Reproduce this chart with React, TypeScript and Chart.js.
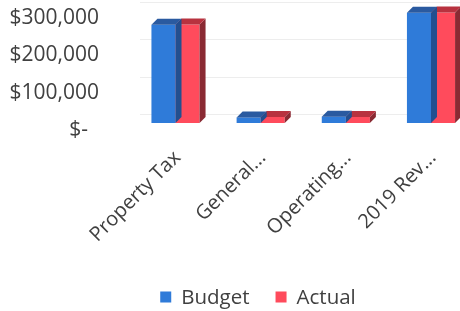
import { useEffect, useRef } from "react";
import { Chart, registerables } from "chart.js";

Chart.register(...registerables);

const categories = ["Property Tax", "General...", "Operating...", "2019 Rev..."];
const seriesNames = ["Budget", "Actual"];
const budget = [263000, 15000, 17000, 295000];
const actual = [264000, 16000, 16000, 296000];
const yTickValues = [0, 100000, 200000, 300000];

const FONT = "'Open Sans', 'DejaVu Sans', sans-serif";
const TEXT = "#404040";

const formatMoney = (v: number) =>
  v === 0 ? "$-  " : "$" + v.toLocaleString("en-US");

const bar3d = {
  id: "bar3d",
  afterDatasetDraw(chart: any, args: any) {
    const ds: any = chart.data.datasets[args.index];
    const ctx = chart.ctx;
    const dx = 6;
    const dy = 6;
    args.meta.data.forEach((el: any) => {
      const p = el.getProps(["x", "y", "base", "width"], true);
      const l = p.x - p.width / 2;
      const r = p.x + p.width / 2;
      const t = Math.min(p.y, p.base);
      const b = Math.max(p.y, p.base);
      ctx.save();
      ctx.fillStyle = ds.sideColor;
      ctx.beginPath();
      ctx.moveTo(r, t);
      ctx.lineTo(r + dx, t - dy);
      ctx.lineTo(r + dx, b - dy);
      ctx.lineTo(r, b);
      ctx.closePath();
      ctx.fill();
      ctx.fillStyle = ds.topColor;
      ctx.beginPath();
      ctx.moveTo(l, t);
      ctx.lineTo(l + dx, t - dy);
      ctx.lineTo(r + dx, t - dy);
      ctx.lineTo(r, t);
      ctx.closePath();
      ctx.fill();
      ctx.restore();
    });
  },
};

const backGrid = {
  id: "backGrid",
  beforeDatasetsDraw(chart: any) {
    const ctx = chart.ctx;
    const y = chart.scales.y;
    ctx.save();
    ctx.strokeStyle = "#ededed";
    ctx.lineWidth = 1;
    yTickValues.forEach((v) => {
      const py = Math.round(y.getPixelForValue(v) - 9) + 0.5;
      ctx.beginPath();
      ctx.moveTo(140, py);
      ctx.lineTo(chart.width, py);
      ctx.stroke();
    });
    ctx.restore();
  },
};

const customLegend = {
  id: "customLegend",
  afterDraw(chart: any) {
    const ctx = chart.ctx;
    const box = 11;
    const gap = 10;
    const itemGap = 26;
    const cx = 258;
    const cy = 297;
    ctx.save();
    ctx.font = `20.5px ${FONT}`;
    const items = chart.data.datasets.map((d: any) => ({
      label: d.label,
      color: d.backgroundColor,
      w: ctx.measureText(d.label).width,
    }));
    const total =
      items.reduce((s: number, it: any) => s + box + gap + it.w, 0) +
      itemGap * (items.length - 1);
    let x = cx - total / 2;
    ctx.textBaseline = "middle";
    ctx.textAlign = "left";
    items.forEach((it: any) => {
      ctx.fillStyle = it.color;
      ctx.fillRect(x, cy - box / 2, box, box);
      ctx.fillStyle = TEXT;
      ctx.fillText(it.label, x + box + gap, cy + 1);
      x += box + gap + it.w + itemGap;
    });
    ctx.restore();
  },
};

export default function App() {
  const ref = useRef<HTMLCanvasElement | null>(null);
  useEffect(() => {
    if (!ref.current) return;
    const chart = new Chart(ref.current, {
      type: "bar",
      data: {
        labels: categories,
        datasets: [
          {
            label: seriesNames[0],
            data: budget,
            backgroundColor: "#2f7bd9",
            topColor: "#2a5aa0",
            sideColor: "#234f8f",
            clip: false,
          } as any,
          {
            label: seriesNames[1],
            data: actual,
            backgroundColor: "#ff4b5c",
            topColor: "#b8323f",
            sideColor: "#8a2a33",
            clip: false,
          } as any,
        ],
      },
      options: {
        responsive: false,
        animation: false,
        events: [],
        layout: { padding: { top: 11, left: 0, right: 29, bottom: 0 } },
        datasets: {
          bar: { barPercentage: 1, categoryPercentage: 0.565 },
        },
        plugins: {
          legend: { display: false },
          tooltip: { enabled: false },
        },
        scales: {
          x: {
            offset: false,
            grid: { display: false, drawTicks: false },
            border: { display: false },
            afterFit: (s: any) => {
              s.height = 188;
              s.paddingLeft = 0;
              s.paddingRight = 0;
              s.paddingTop = 0;
              s.paddingBottom = 0;
            },
            ticks: {
              autoSkip: false,
              minRotation: 45,
              maxRotation: 45,
              padding: 23,
              labelOffset: 2,
              color: TEXT,
              font: { family: FONT, size: 20 },
            },
          },
          y: {
            min: 0,
            max: 300000,
            grid: { display: false, drawTicks: false },
            border: { display: false },
            afterFit: (s: any) => {
              s.width = 175.5;
              s.paddingTop = 0;
              s.paddingBottom = 0;
              s.paddingLeft = 0;
              s.paddingRight = 0;
            },
            afterBuildTicks: (s: any) => {
              s.ticks = yTickValues.map((v) => ({ value: v }));
            },
            ticks: {
              autoSkip: false,
              padding: 76.5,
              labelOffset: 7,
              color: TEXT,
              font: { family: FONT, size: 21 },
              callback: (v: any) => formatMoney(Number(v)),
            },
          },
        },
      },
      plugins: [backGrid, bar3d, customLegend],
    });
    return () => chart.destroy();
  }, []);
  return (
    <div
      style={{
        position: "absolute",
        left: 0,
        top: 0,
        width: 460,
        height: 311,
        overflow: "hidden",
        background: "#fff",
      }}
    >
      <canvas ref={ref} width={460} height={311} />
    </div>
  );
}
